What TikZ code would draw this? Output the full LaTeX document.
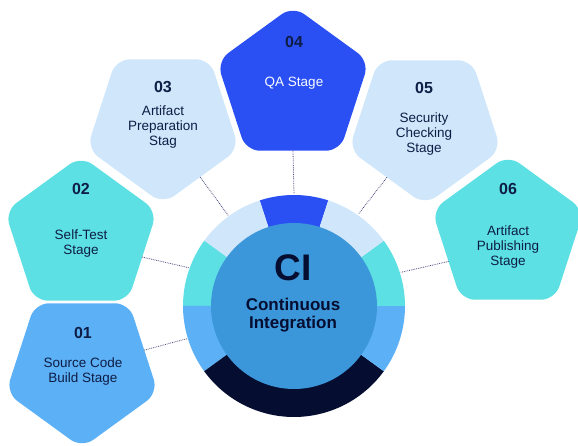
\documentclass[tikz,border=0pt]{standalone}
\usepackage{fontspec}
\setmainfont{Liberation Sans}
\usepackage{xcolor}
\usepackage{tikz}
\usetikzlibrary{shapes.geometric}

\definecolor{stageblue}{HTML}{5CB0F6}
\definecolor{stageteal}{HTML}{5DE0E3}
\definecolor{stagepale}{HTML}{CFE6FB}
\definecolor{stageroyal}{HTML}{2A4FF3}
\definecolor{hubblue}{HTML}{3B97DA}
\definecolor{hubnavy}{HTML}{050D30}
\definecolor{inktext}{HTML}{0E1D45}
\definecolor{linkgray}{HTML}{4A4A80}

\tikzset{
	pent/.style={regular polygon, regular polygon sides=5, minimum size=160pt, inner sep=0pt, outer sep=0pt, rounded corners=14pt},
	pentdown/.style={pent, shape border rotate=180},
	num/.style={font=\bfseries\fontsize{16}{18}\selectfont, text=inktext},
	desc/.style={font=\fontsize{13.5}{15}\selectfont, text=inktext, align=center},
	link/.style={linkgray, densely dotted, line width=0.8pt},
}

\begin{document}
\begin{tikzpicture}[x=1pt,y=1pt]
	\useasboundingbox (0,0) rectangle (578,446);
	\node[pentdown, fill=stageblue] (s1) at (82,78) {};
	\node[pent, fill=stageteal] (s2) at (81,210) {};
	\node[pentdown, fill=stagepale] (s3) at (163,322) {};
	\node[pent, fill=stageroyal] (s4) at (293,360) {};
	\node[pentdown, fill=stagepale] (s5) at (425,321) {};
	\node[pent, fill=stageteal] (s6) at (508,211) {};
	\coordinate (hub) at (294,140);
	\foreach \i/\a in {1/197,2/160,3/126,4/90,5/55,6/17.5}
		\path (hub) ++(\a:112pt) coordinate (r\i);
	\draw[link] (s1.16) -- (r1);
	\draw[link] (s2.-19) -- (r2);
	\draw[link] (s3.-55) -- (r3);
	\draw[link] (s4.-90) -- (r4);
	\draw[link] (s5.234) -- (r5);
	\draw[link] (s6.204) -- (r6);
	\foreach \a/\b/\col in {72/108/stageroyal, 108/144/stagepale, 144/180/stageteal, 180/216/stageblue, 216/324/hubnavy, 324/360/stageblue, 0/36/stageteal, 36/72/stagepale}
		\fill[\col] (hub) -- ++(\a:111pt) arc[start angle=\a, end angle=\b, radius=111pt] -- cycle;
	\node[circle, fill=hubblue, minimum size=166pt, inner sep=0pt] (core) at (hub) {};
	\node[font=\bfseries\fontsize{37}{40}\selectfont, text=hubnavy] (ci) at (293,178) {CI};
	\node[font=\bfseries\fontsize{17}{18.5}\selectfont, text=hubnavy, align=center] (cin) at (293,131) {Continuous\\Integration};
	\node[num] (n1) at (83,113) {01};
	\node[desc] (d1) at (83,74) {Source Code\\Build Stage};
	\node[num] (n2) at (81,257) {02};
	\node[desc] (d2) at (81,202) {Self-Test\\Stage};
	\node[num] (n3) at (163,359) {03};
	\node[desc] (d3) at (163,319) {Artifact\\Preparation\\Stag};
	\node[num] (n4) at (294,404) {04};
	\node[desc, text=white!88!stagepale] (d4) at (294,363) {QA Stage};
	\node[num] (n5) at (424,358) {05};
	\node[desc] (d5) at (424,312) {Security\\Checking\\Stage};
	\node[num] (n6) at (508,257) {06};
	\node[desc] (d6) at (508,199) {Artifact\\Publishing\\Stage};
\end{tikzpicture}
\end{document}
